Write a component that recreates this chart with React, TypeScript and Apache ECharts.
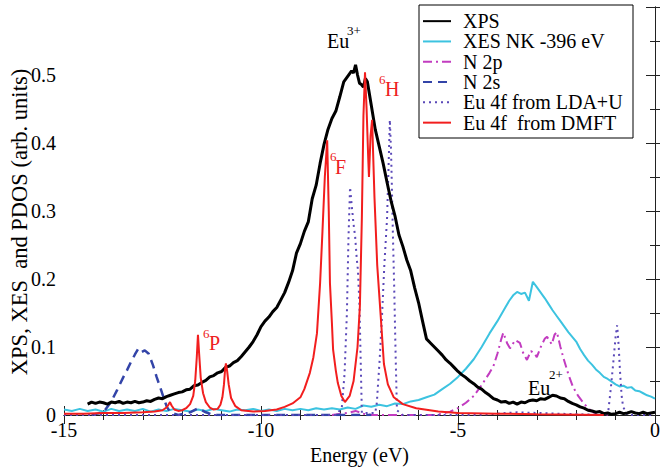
import React, { useEffect, useRef } from "react";
import * as echarts from "echarts";

const FONT = "Liberation Serif";

const seriesNames = ["XPS", "XES NK -396 eV", "N 2p", "N 2s", "Eu 4f from LDA+U", "Eu 4f  from DMFT"];
const xTickLabels = ["-15", "-10", "-5", "0"];
const yTickLabels = ["0", "0.1", "0.2", "0.3", "0.4", "0.5"];
const yAxisTitle = "XPS, XES  and PDOS (arb. units)";

const xps: number[][] = [
  [-14.4, 0.016], [-14.3, 0.019], [-14.2, 0.017], [-14.1, 0.019], [-14.0, 0.018], [-13.9, 0.016], [-13.8, 0.019],
  [-13.7, 0.018], [-13.6, 0.02], [-13.5, 0.017], [-13.4, 0.019], [-13.3, 0.018], [-13.2, 0.02], [-13.1, 0.018],
  [-13.0, 0.019], [-12.9, 0.021], [-12.8, 0.02], [-12.7, 0.023], [-12.6, 0.025], [-12.5, 0.024], [-12.4, 0.027],
  [-12.3, 0.029], [-12.2, 0.031], [-12.1, 0.033], [-12.0, 0.034], [-11.9, 0.037], [-11.8, 0.038], [-11.7, 0.043],
  [-11.6, 0.044], [-11.5, 0.048], [-11.4, 0.051], [-11.3, 0.056], [-11.2, 0.058], [-11.1, 0.062], [-11.0, 0.064],
  [-10.9, 0.07], [-10.8, 0.072], [-10.7, 0.077], [-10.6, 0.08], [-10.5, 0.086], [-10.4, 0.093], [-10.3, 0.1],
  [-10.2, 0.108], [-10.1, 0.118], [-10.0, 0.13], [-9.9, 0.138], [-9.8, 0.144], [-9.7, 0.152], [-9.6, 0.158],
  [-9.5, 0.169], [-9.4, 0.18], [-9.3, 0.195], [-9.2, 0.212], [-9.1, 0.238], [-9.0, 0.252], [-8.9, 0.27],
  [-8.8, 0.284], [-8.7, 0.318], [-8.6, 0.338], [-8.5, 0.37], [-8.4, 0.398], [-8.3, 0.42], [-8.2, 0.436],
  [-8.1, 0.447], [-8.0, 0.468], [-7.9, 0.49], [-7.8, 0.498], [-7.7, 0.506], [-7.65, 0.503], [-7.6, 0.515],
  [-7.55, 0.5], [-7.5, 0.488], [-7.45, 0.486], [-7.4, 0.482], [-7.35, 0.495], [-7.3, 0.49], [-7.2, 0.455],
  [-7.1, 0.42], [-7.0, 0.395], [-6.9, 0.37], [-6.8, 0.342], [-6.7, 0.315], [-6.6, 0.293], [-6.5, 0.265],
  [-6.4, 0.248], [-6.3, 0.228], [-6.2, 0.212], [-6.1, 0.187], [-6.0, 0.165], [-5.9, 0.138], [-5.8, 0.112],
  [-5.7, 0.106], [-5.6, 0.1], [-5.5, 0.094], [-5.4, 0.088], [-5.3, 0.081], [-5.2, 0.076], [-5.1, 0.07],
  [-5.0, 0.064], [-4.9, 0.059], [-4.8, 0.055], [-4.7, 0.05], [-4.6, 0.046], [-4.5, 0.041], [-4.4, 0.038],
  [-4.3, 0.033], [-4.2, 0.029], [-4.1, 0.024], [-4.0, 0.022], [-3.9, 0.019], [-3.8, 0.02], [-3.7, 0.017],
  [-3.6, 0.019], [-3.5, 0.016], [-3.4, 0.019], [-3.3, 0.018], [-3.2, 0.021], [-3.1, 0.022], [-3.0, 0.021],
  [-2.9, 0.024], [-2.8, 0.023], [-2.7, 0.026], [-2.6, 0.029], [-2.5, 0.028], [-2.4, 0.025], [-2.3, 0.024],
  [-2.2, 0.02], [-2.1, 0.017], [-2.0, 0.015], [-1.9, 0.012], [-1.8, 0.01], [-1.7, 0.007], [-1.6, 0.006],
  [-1.5, 0.004], [-1.4, 0.005], [-1.3, 0.002], [-1.2, 0.003], [-1.1, 0.001], [-1.0, 0.002], [-0.9, 0.004],
  [-0.8, 0.002], [-0.7, 0.003], [-0.6, 0.005], [-0.5, 0.003], [-0.4, 0.002], [-0.3, 0.004], [-0.2, 0.002],
  [-0.1, 0.003], [0, 0.004],
];

const xes: number[][] = [
  [-15, 0.008], [-14.8, 0.006], [-14.6, 0.009], [-14.4, 0.006], [-14.2, 0.008], [-14.0, 0.005], [-13.8, 0.009],
  [-13.6, 0.006], [-13.4, 0.008], [-13.2, 0.006], [-13.0, 0.009], [-12.8, 0.005], [-12.6, 0.008], [-12.4, 0.006],
  [-12.2, 0.009], [-12.0, 0.007], [-11.8, 0.005], [-11.6, 0.008], [-11.4, 0.006], [-11.2, 0.009], [-11.0, 0.007],
  [-10.8, 0.005], [-10.6, 0.008], [-10.4, 0.007], [-10.2, 0.009], [-10.0, 0.006], [-9.8, 0.008], [-9.6, 0.006],
  [-9.4, 0.009], [-9.2, 0.007], [-9.0, 0.009], [-8.8, 0.007], [-8.6, 0.01], [-8.4, 0.008], [-8.2, 0.01],
  [-8.0, 0.008], [-7.8, 0.011], [-7.6, 0.009], [-7.4, 0.014], [-7.2, 0.012], [-7.0, 0.015], [-6.8, 0.013],
  [-6.6, 0.017], [-6.4, 0.016], [-6.2, 0.02], [-6.0, 0.022], [-5.8, 0.026], [-5.6, 0.03], [-5.4, 0.038],
  [-5.2, 0.046], [-5.0, 0.056], [-4.8, 0.068], [-4.6, 0.082], [-4.4, 0.1], [-4.2, 0.12], [-4.0, 0.138],
  [-3.8, 0.158], [-3.7, 0.168], [-3.6, 0.176], [-3.5, 0.181], [-3.4, 0.178], [-3.3, 0.18], [-3.2, 0.168],
  [-3.1, 0.196], [-3.0, 0.188], [-2.9, 0.18], [-2.8, 0.172], [-2.7, 0.163], [-2.6, 0.154], [-2.5, 0.146],
  [-2.4, 0.138], [-2.3, 0.13], [-2.2, 0.122], [-2.0, 0.108], [-1.9, 0.097], [-1.8, 0.088], [-1.7, 0.08],
  [-1.6, 0.074], [-1.5, 0.067], [-1.4, 0.062], [-1.3, 0.056], [-1.2, 0.053], [-1.1, 0.049], [-1.0, 0.045],
  [-0.9, 0.042], [-0.8, 0.043], [-0.7, 0.04], [-0.6, 0.041], [-0.5, 0.036], [-0.4, 0.035], [-0.3, 0.032],
  [-0.2, 0.029], [-0.1, 0.027], [0, 0.024],
];

const n2p: number[][] = [
  [-8.2, 0], [-7.8, 0.003], [-7.6, 0.006], [-7.4, 0.002], [-7.2, 0], [-5.6, 0], [-5.4, 0.002], [-5.2, 0.005],
  [-5.0, 0.01], [-4.8, 0.018], [-4.6, 0.028], [-4.4, 0.044], [-4.2, 0.062], [-4.1, 0.072], [-4.0, 0.09],
  [-3.9, 0.112], [-3.85, 0.121], [-3.75, 0.105], [-3.68, 0.098], [-3.55, 0.11], [-3.43, 0.106], [-3.35, 0.092],
  [-3.25, 0.081], [-3.15, 0.094], [-3.05, 0.09], [-3.0, 0.085], [-2.9, 0.1], [-2.8, 0.112], [-2.74, 0.115],
  [-2.62, 0.104], [-2.55, 0.118], [-2.49, 0.122], [-2.4, 0.1], [-2.33, 0.085], [-2.2, 0.06], [-2.08, 0.041],
  [-1.95, 0.028], [-1.82, 0.018], [-1.7, 0.01], [-1.57, 0.004], [-1.4, 0.001], [-1.2, 0],
];

const n2s: number[][] = [
  [-14.3, 0], [-14.15, 0.002], [-14.0, 0.004], [-13.8, 0.02], [-13.65, 0.037], [-13.5, 0.055], [-13.4, 0.066],
  [-13.3, 0.078], [-13.2, 0.089], [-13.12, 0.097], [-13.05, 0.092], [-12.95, 0.095], [-12.85, 0.09],
  [-12.74, 0.073], [-12.65, 0.056], [-12.56, 0.041], [-12.47, 0.025], [-12.39, 0.012], [-12.3, 0.004],
  [-12.1, 0], [-11.8, 0.004], [-11.6, 0.01], [-11.4, 0.004], [-11.2, 0], [-7.2, 0],
];

const lda: number[][] = [
  [-15, 0], [-8.1, 0], [-7.95, 0.01], [-7.88, 0.06], [-7.82, 0.15], [-7.78, 0.26], [-7.74, 0.335], [-7.7, 0.31],
  [-7.65, 0.28], [-7.61, 0.262], [-7.57, 0.23], [-7.54, 0.213], [-7.5, 0.16], [-7.47, 0.08], [-7.44, 0.003],
  [-7.1, 0.003], [-7.06, 0.018], [-6.99, 0.08], [-6.93, 0.144], [-6.87, 0.22], [-6.8, 0.29], [-6.76, 0.37],
  [-6.73, 0.434], [-6.7, 0.39], [-6.68, 0.34], [-6.65, 0.26], [-6.62, 0.19], [-6.58, 0.08], [-6.55, 0.007],
  [-6.4, 0], [-4.5, 0], [-3.5, 0.004], [-2.5, 0.002], [-1.3, 0], [-1.19, 0.003], [-1.12, 0.04], [-1.07, 0.07],
  [-1.0, 0.115], [-0.96, 0.132], [-0.92, 0.1], [-0.89, 0.066], [-0.85, 0.03], [-0.81, 0.012], [-0.7, 0], [0, 0],
];

const dmft: number[][] = [
  [-15, 0.002], [-14.5, 0.002], [-14, 0.003], [-13.5, 0.003], [-13, 0.004], [-12.7, 0.005], [-12.5, 0.007],
  [-12.4, 0.011], [-12.35, 0.015], [-12.31, 0.019], [-12.27, 0.014], [-12.2, 0.008], [-12.1, 0.006],
  [-12.0, 0.007], [-11.9, 0.01], [-11.8, 0.016], [-11.72, 0.028], [-11.67, 0.05], [-11.63, 0.085],
  [-11.6, 0.118], [-11.57, 0.09], [-11.53, 0.055], [-11.47, 0.032], [-11.4, 0.019], [-11.3, 0.011],
  [-11.2, 0.008], [-11.1, 0.009], [-11.03, 0.015], [-10.98, 0.026], [-10.94, 0.045], [-10.91, 0.068],
  [-10.89, 0.076], [-10.86, 0.065], [-10.82, 0.045], [-10.76, 0.025], [-10.65, 0.013], [-10.5, 0.007],
  [-10.2, 0.005], [-9.9, 0.006], [-9.6, 0.008], [-9.4, 0.012], [-9.2, 0.017], [-9.0, 0.026], [-8.9, 0.038],
  [-8.76, 0.062], [-8.67, 0.085], [-8.58, 0.12], [-8.5, 0.194], [-8.44, 0.27], [-8.38, 0.35], [-8.32, 0.404],
  [-8.28, 0.3], [-8.25, 0.194], [-8.2, 0.135], [-8.17, 0.096], [-8.1, 0.065], [-8.05, 0.047], [-7.96, 0.028],
  [-7.87, 0.019], [-7.75, 0.028], [-7.65, 0.05], [-7.55, 0.1], [-7.49, 0.16], [-7.44, 0.29], [-7.4, 0.44],
  [-7.36, 0.504], [-7.32, 0.45], [-7.28, 0.38], [-7.26, 0.35], [-7.22, 0.41], [-7.18, 0.434], [-7.12, 0.32],
  [-7.05, 0.22], [-6.96, 0.144], [-6.88, 0.075], [-6.78, 0.045], [-6.63, 0.026], [-6.4, 0.016], [-6.06, 0.01],
  [-5.5, 0.005], [-5, 0.003], [-4, 0.002], [-3, 0.001], [-1.3, 0],
];

const AXIS_COLOR = "#222";
const RED = "#ee2020";

export default function App() {
  const ref = useRef<HTMLDivElement>(null);
  useEffect(() => {
    if (!ref.current) return;
    const chart = echarts.init(ref.current, undefined, { renderer: "svg" });
    const tickCommon = {
      axisLine: { show: true, lineStyle: { color: AXIS_COLOR, width: 1 } },
      splitLine: { show: false },
    };
    const xBase = {
      type: "value",
      min: -15,
      max: 0,
      interval: 5,
      ...tickCommon,
      axisTick: { show: true, inside: true, length: 9, lineStyle: { color: AXIS_COLOR } },
      minorTick: { show: true, splitNumber: 5, length: 5, lineStyle: { color: AXIS_COLOR } },
    };
    const yBase = {
      type: "value",
      min: 0,
      max: 0.6,
      interval: 0.1,
      ...tickCommon,
      axisTick: { show: true, inside: true, length: 9, lineStyle: { color: AXIS_COLOR } },
      minorTick: { show: true, splitNumber: 2, length: 5, lineStyle: { color: AXIS_COLOR } },
    };
    const mk = (name: string, data: number[][], color: string, width: number, type: any, z: number) => ({
      name,
      type: "line",
      data,
      symbol: "none",
      showSymbol: false,
      lineStyle: { color, width, type },
      itemStyle: { color },
      z,
    });
    const txt = (x: number, y: number, text: string, size: number, fill: string) => ({
      type: "text",
      z: 16,
      x,
      y,
      style: { text, fontFamily: FONT, fontSize: size, fill, verticalAlign: "middle", align: "left" },
    });
    const option: any = {
      animation: false,
      backgroundColor: "#fff",
      textStyle: { fontFamily: FONT },
      grid: { left: 64, right: 5, top: 7, bottom: 52, containLabel: false, outerBoundsMode: "none" },
      xAxis: [
        {
          ...xBase,
          position: "bottom",
          axisLabel: {
            fontFamily: FONT,
            fontSize: 20,
            color: "#000",
            margin: 5,
            formatter: (v: number) => xTickLabels[Math.round((v + 15) / 5)] ?? "",
          },
          name: "Energy (eV)",
          nameLocation: "middle",
          nameGap: 27,
          nameTextStyle: { fontFamily: FONT, fontSize: 20, color: "#000" },
        },
        { ...xBase, position: "top", axisLabel: { show: false } },
      ],
      yAxis: [
        {
          ...yBase,
          position: "left",
          axisLabel: {
            fontFamily: FONT,
            fontSize: 20,
            color: "#000",
            margin: 8,
            formatter: (v: number) => yTickLabels[Math.round(v * 10)] ?? "",
          },
        },
        { ...yBase, position: "right", axisLabel: { show: false } },
      ],
      legend: {
        data: seriesNames,
        orient: "vertical",
        left: 422,
        top: 11,
        padding: 0,
        itemWidth: 28,
        itemHeight: 14,
        itemGap: 0,
        z: 20,
        itemStyle: { opacity: 0 },
        textStyle: { fontFamily: FONT, fontSize: 20, color: "#000", lineHeight: 20.3, padding: [0, 0, 0, 7] },
      },
      graphic: [
        {
          type: "rect",
          z: 15,
          shape: { x: 419, y: 5, width: 214, height: 133 },
          style: { fill: "#fff", stroke: "#000", lineWidth: 1 },
        },
        {
          type: "text",
          z: 16,
          x: 19,
          y: 222,
          rotation: Math.PI / 2,
          style: {
            text: yAxisTitle,
            fontFamily: FONT,
            fontSize: 22.5,
            fill: "#000",
            align: "center",
            verticalAlign: "middle",
          },
        },
        txt(327, 41, "Eu", 20, "#000"),
        txt(347, 30, "3+", 13, "#000"),
        txt(379, 79, "6", 13, RED),
        txt(385, 89, "H", 20, RED),
        txt(330, 156, "6", 13, RED),
        txt(335, 167, "F", 20, RED),
        txt(203, 333, "6", 13, RED),
        txt(209, 343, "P", 20, RED),
        txt(528, 388, "Eu", 20, "#000"),
        txt(549, 374, "2+", 13, "#000"),
      ],
      series: [
        mk(seriesNames[0], xps, "#000000", 3, "solid", 5),
        mk(seriesNames[1], xes, "#3cc3e0", 2, "solid", 3),
        mk(seriesNames[2], n2p, "#c23cc0", 2, [9, 4, 2, 4], 3),
        mk(seriesNames[3], n2s, "#3344a8", 2.5, [9, 6], 3),
        mk(seriesNames[4], lda, "#5a48b8", 2, [2, 4], 4),
        mk(seriesNames[5], dmft, "#f21e1e", 2, "solid", 6),
      ],
    };
    chart.setOption(option);
    return () => chart.dispose();
  }, []);
  return (
    <div
      ref={ref}
      style={{ position: "fixed", left: 0, top: 0, width: 660, height: 467, background: "#fff" }}
    />
  );
}
